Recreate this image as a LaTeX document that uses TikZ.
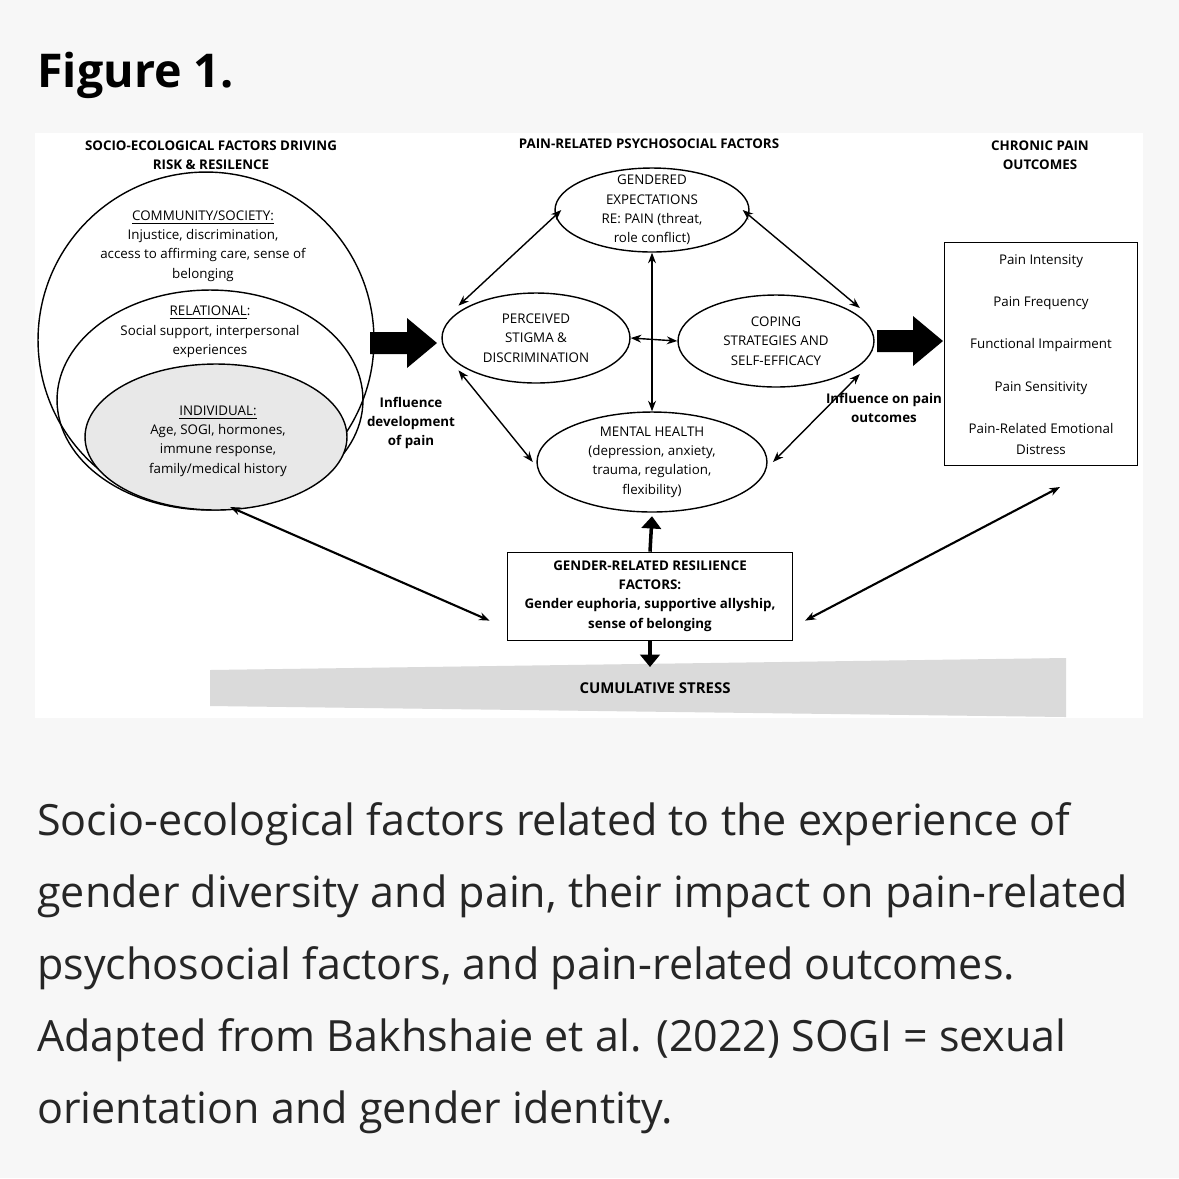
\documentclass[tikz,border=0pt]{standalone}
\usepackage{fontspec}
\setmainfont{Open Sans}
\usetikzlibrary{positioning,arrows.meta,shapes.geometric}
\definecolor{pagebg}{HTML}{F7F7F7}
\definecolor{stressgray}{HTML}{DADADA}
\begin{document}
\begin{tikzpicture}[x=0.02cm,y=-0.02cm,
    lbl/.style={font=\fontsize{7.6}{11}\selectfont, align=center, inner sep=0pt},
    head/.style={lbl, font=\fontsize{7.6}{11}\selectfont\bfseries},
    oval/.style={draw, ellipse, thick, inner sep=0pt},
    dbl/.style={{Stealth[length=6pt]}-{Stealth[length=6pt]}, thick},
    fat/.style={-{Triangle[length=7pt,width=11pt]}, line width=2pt},
    blockarrow/.style={fill=black, draw=none}]

    % Background and panel
    \fill[pagebg] (0,0) rectangle (1179,1178);
    \fill[white] (35,133) rectangle (1143,718);
    \node[anchor=west, inner sep=0pt, font=\fontsize{26.5}{32}\selectfont\bfseries] (title) at (37,75) {Figure 1.};

    % Headers
    \node[head] (hleft) at (211,155) {SOCIO-ECOLOGICAL FACTORS DRIVING\\RISK \& RESILENCE};
    \node[head] (hmid) at (649,144) {PAIN-RELATED PSYCHOSOCIAL FACTORS};
    \node[head] (hright) at (1040,155) {CHRONIC PAIN\\OUTCOMES};

    % Nested socio-ecological levels
    \draw[thick] (206,340) circle [radius=3.36cm];
    \draw[thick] (210,400) ellipse [x radius=3.06cm, y radius=2.2cm];
    \draw[thick, fill=gray!18] (216,437) ellipse [x radius=2.62cm, y radius=1.46cm];
    \node[lbl] (comm) at (203,246) {\underline{COMMUNITY/SOCIETY:}\\Injustice, discrimination,\\access to affirming care, sense of\\belonging};
    \node[lbl] (rel) at (210,332) {\underline{RELATIONAL}:\\Social support, interpersonal\\experiences};
    \node[lbl] (ind) at (218,441) {\underline{INDIVIDUAL:}\\Age, SOGI, hormones,\\immune response,\\family/medical history};
    \coordinate (indend) at (230,507);

    % Psychosocial factors
    \node[oval, minimum width=3.88cm, minimum height=1.68cm] (gend) at (652,210) {};
    \node[lbl] at (gend) {GENDERED\\EXPECTATIONS\\RE: PAIN (threat,\\role conflict)};
    \node[oval, minimum width=3.76cm, minimum height=1.8cm] (stig) at (536,338) {};
    \node[lbl] at (stig) {PERCEIVED\\STIGMA \&\\DISCRIMINATION};
    \node[oval, minimum width=3.92cm, minimum height=1.84cm] (cope) at (776,341) {};
    \node[lbl] at (cope) {COPING\\STRATEGIES AND\\SELF-EFFICACY};
    \node[oval, minimum width=4.6cm, minimum height=2cm] (ment) at (652,462) {};
    \node[lbl] at (ment) {MENTAL HEALTH\\(depression, anxiety,\\trauma, regulation,\\flexibility)};

    % Outcomes
    \node[draw, minimum width=3.86cm, minimum height=4.46cm, inner sep=0pt] (outc) at (1041,354) {};
    \node[lbl, font=\fontsize{7.6}{24}\selectfont] at (1041,344) {Pain Intensity\\Pain Frequency\\Functional Impairment\\Pain Sensitivity\\Pain-Related Emotional};
    \node[lbl] at (1041,450) {Distress};
    \coordinate (outend) at (1060,487);

    % Resilience and stress
    \node[draw, minimum width=5.7cm, minimum height=1.76cm, inner sep=0pt] (res) at (650,596) {};
    \node[head] at (res) {GENDER-RELATED RESILIENCE\\FACTORS:\\Gender euphoria, supportive allyship,\\sense of belonging};
    \fill[stressgray] (210,670) -- (1066,658) -- (1066,717) -- (210,706) -- cycle;
    \node[head, font=\fontsize{8.5}{10}\selectfont\bfseries] (stress) at (655,688) {CUMULATIVE STRESS};

    % Big arrows
    \fill[blockarrow] (370,332) -- (407,332) -- (407,318) -- (437,343) -- (407,368) -- (407,354) -- (370,354) -- cycle;
    \fill[blockarrow] (877,330) -- (913,330) -- (913,316) -- (943,341) -- (913,366) -- (913,352) -- (877,352) -- cycle;
    \node[head] (infl1) at (411,423) {Influence\\development\\of pain};
    \node[head] (infl2) at (884,408) {Influence on pain\\outcomes};

    % Connectors
    \draw[dbl] ([xshift=4]gend.west) -- ([xshift=-6]stig.north west);
    \draw[dbl] ([xshift=-4]gend.east) -- ([xshift=8]cope.north east);
    \draw[dbl] ([xshift=-6]stig.south west) -- ([xshift=-2]ment.west);
    \draw[dbl] ([xshift=8]cope.south east) -- ([xshift=3]ment.east);
    \draw[dbl] (gend.south) -- (ment.north);
    \draw[dbl] (stig.east) -- (cope.west);
    \draw[fat] (res.north) -- ([yshift=-2]ment.south);
    \draw[fat] (res.south) -- (650,667);
    \draw[dbl, very thick] (indend) -- ([xshift=-10,yshift=-14]res.west);
    \draw[dbl, very thick] ([xshift=7,yshift=-14]res.east) -- (outend);

    % Caption
    \node[anchor=north west, align=left, inner sep=0pt,
          font=\fontsize{24.5}{41}\selectfont, text=black!85] (cap) at (37,802)
      {Socio-ecological factors related to the experience of\\gender diversity and pain, their impact on pain-related\\psychosocial factors, and pain-related outcomes.\\Adapted from Bakhshaie et al. (2022) SOGI = sexual\\orientation and gender identity.};
\end{tikzpicture}
\end{document}
